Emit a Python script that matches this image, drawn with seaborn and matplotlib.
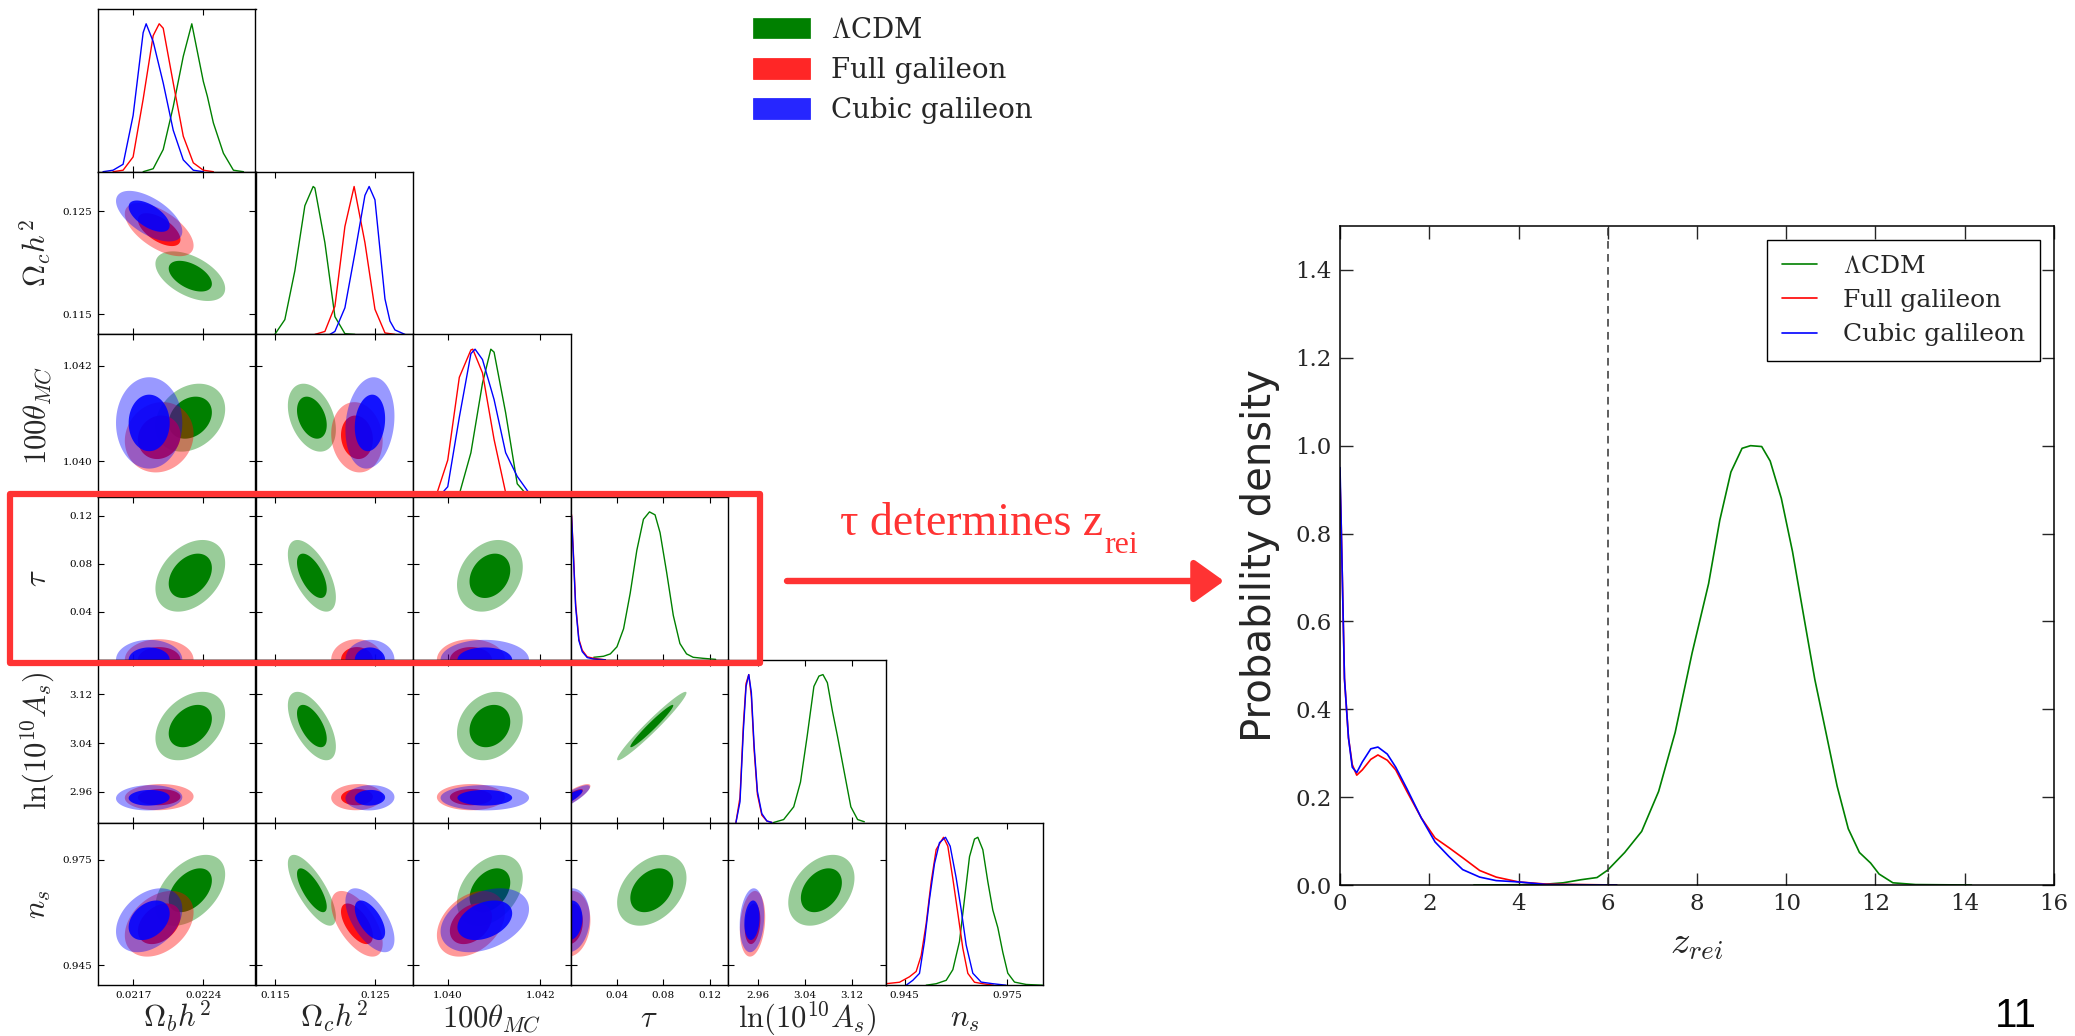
import numpy as np
import pandas as pd
import seaborn as sns
import matplotlib
matplotlib.use("Agg")
import matplotlib.pyplot as plt
from matplotlib.patches import Patch, Rectangle, FancyArrowPatch

# ------------------------------------------------------------------ data
model_names = ["LCDM", "Full galileon", "Cubic galileon"]
legend_labels = [r"$\Lambda$CDM", "Full galileon", "Cubic galileon"]
model_colors = ["#008000", "#ff0000", "#0000ff"]

param_labels = [r"$\Omega_b h^2$", r"$\Omega_c h^2$", r"$100\theta_{MC}$",
                r"$\tau$", r"$\ln(10^{10} A_s)$", r"$n_s$"]
param_lims = [(0.02135, 0.02292), (0.11307, 0.1288), (1.03925, 1.04265),
              (0.0, 0.1356), (2.9093, 3.177), (0.9394, 0.9855)]
param_ticks = [[0.0217, 0.0224], [0.115, 0.125], [1.040, 1.042],
               [0.04, 0.08, 0.12], [2.96, 3.04, 3.12], [0.945, 0.975]]
param_ticklabels = [["0.0217", "0.0224"], ["0.115", "0.125"], ["1.040", "1.042"],
                    ["0.04", "0.08", "0.12"], ["2.96", "3.04", "3.12"], ["0.945", "0.975"]]

# 2D posterior summaries (centre, spread, tilt)
mean_lcdm = [0.02227, 0.1187, 1.04091, 0.0700, 3.068, 0.9663]
sig_lcdm = [1.42e-4, 0.00098, 0.00029, 0.0122, 0.023, 0.0041]
mean_full = [0.02196, 0.1232, 1.04050, 0.0, 2.951, 0.9568]
sig_full = [1.40e-4, 0.00105, 0.00030, 0.0070, 0.0088, 0.0038]
mean_cubic = [0.02186, 0.1245, 1.04080, 0.0, 2.950, 0.9578]
sig_cubic = [1.35e-4, 0.00100, 0.00039, 0.0068, 0.0085, 0.0037]
# pairs in order (0,1),(0,2),(0,3),(0,4),(0,5),(1,2),(1,3),(1,4),(1,5),(2,3),(2,4),(2,5),(3,4),(3,5),(4,5)
corr_lcdm = [-0.50, 0.25, 0.35, 0.35, 0.45, -0.35, -0.60, -0.60, -0.75, 0.25, 0.20, 0.35, 0.97, 0.35, 0.35]
corr_full = [-0.60, 0.10, 0.0, 0.05, 0.35, -0.10, 0.0, 0.05, -0.60, 0.0, 0.0, 0.35, 0.85, 0.10, 0.20]
corr_cubic = [-0.60, 0.0, 0.0, 0.05, 0.35, 0.15, 0.0, 0.05, -0.60, 0.0, 0.0, 0.35, 0.85, 0.10, 0.15]

# 1D marginals, read point by point
omb_x_lcdm = [0.0218, 0.0219, 0.0220, 0.0221, 0.0222, 0.022285, 0.0224, 0.02244, 0.0225, 0.0226, 0.0227, 0.0228]
omb_y_lcdm = [0, 0.02, 0.15, 0.44, 0.78, 1.0, 0.61, 0.51, 0.33, 0.125, 0.01, 0]
omb_x_full = [0.0215, 0.0216, 0.0217, 0.0218, 0.0219, 0.02196, 0.0220, 0.0221, 0.0222, 0.0223, 0.0224, 0.0225]
omb_y_full = [0, 0.01, 0.1, 0.49, 0.92, 1.0, 0.97, 0.6, 0.24, 0.06, 0.01, 0]
omb_x_cubic = [0.0214, 0.0215, 0.0216, 0.0217, 0.0218, 0.02183, 0.0219, 0.0220, 0.0221, 0.0222, 0.0223, 0.0224]
omb_y_cubic = [0, 0.01, 0.05, 0.38, 0.94, 1.0, 0.88, 0.6, 0.28, 0.08, 0.01, 0]

omc_x_lcdm = [0.1150, 0.1160, 0.1170, 0.1180, 0.11883, 0.1190, 0.1200, 0.1210, 0.1220, 0.1230]
omc_y_lcdm = [0, 0.1, 0.43, 0.87, 1.0, 0.99, 0.62, 0.12, 0.005, 0]
omc_x_full = [0.1190, 0.1200, 0.1210, 0.1220, 0.12292, 0.1240, 0.1250, 0.1260, 0.1270]
omc_y_full = [0, 0.02, 0.19, 0.73, 1.0, 0.62, 0.17, 0.01, 0]
omc_x_cubic = [0.1205, 0.1210, 0.1220, 0.1230, 0.1240, 0.12442, 0.1250, 0.1260, 0.1265, 0.1270, 0.1280]
omc_y_cubic = [0, 0.02, 0.18, 0.55, 0.94, 1.0, 0.91, 0.24, 0.09, 0.03, 0]

th_x_lcdm = [1.0400, 1.04025, 1.0405, 1.04075, 1.04093, 1.0410, 1.04125, 1.0415, 1.04175]
th_y_lcdm = [0, 0.02, 0.3, 0.77, 1.0, 0.98, 0.57, 0.09, 0]
th_x_full = [1.0397, 1.03975, 1.0400, 1.04025, 1.0405, 1.04054, 1.04075, 1.0410, 1.04125, 1.0415]
th_y_full = [0, 0.01, 0.25, 0.81, 0.995, 1.0, 0.84, 0.39, 0.03, 0]
th_x_cubic = [1.0398, 1.0400, 1.04025, 1.0405, 1.04059, 1.04075, 1.0410, 1.04125, 1.0415, 1.04175, 1.0420]
th_y_cubic = [0, 0.07, 0.54, 0.97, 1.0, 0.93, 0.66, 0.3, 0.14, 0.03, 0]

tau_x_lcdm = [0.020, 0.0285, 0.0343, 0.040, 0.0457, 0.0514, 0.0571, 0.0628, 0.068, 0.0728,
              0.0771, 0.0828, 0.0885, 0.0942, 0.0999, 0.1056, 0.1142, 0.125]
tau_y_lcdm = [0.017, 0.024, 0.04, 0.088, 0.21, 0.45, 0.74, 0.95, 1.0, 0.98,
              0.86, 0.59, 0.3, 0.11, 0.04, 0.017, 0.01, 0.003]
tau_x_gal = [0.0, 0.0009, 0.0024, 0.0044, 0.0072, 0.0101, 0.0144, 0.020, 0.030]
tau_y_full = [1.0, 0.98, 0.74, 0.38, 0.14, 0.065, 0.02, 0.01, 0.0]
tau_y_cubic = [1.0, 0.97, 0.72, 0.36, 0.13, 0.055, 0.015, 0.005, 0.0]

lnas_x_lcdm = [2.9867, 3.0039, 3.0210, 3.0325, 3.0439, 3.0553, 3.0639, 3.0707, 3.0782,
               3.0868, 3.0953, 3.1067, 3.1181, 3.1296, 3.1410]
lnas_y_lcdm = [0, 0.02, 0.106, 0.273, 0.585, 0.92, 0.99, 1.0, 0.945,
               0.753, 0.585, 0.345, 0.106, 0.02, 0.005]
lnas_x_gal = [2.9228, 2.9297, 2.9354, 2.9400, 2.9446, 2.9490, 2.9537, 2.9593, 2.9668, 2.9754, 2.9840]
lnas_y_full = [0, 0.17, 0.66, 0.94, 1.0, 0.85, 0.49, 0.19, 0.05, 0.01, 0]
lnas_y_cubic = [0, 0.14, 0.62, 0.92, 1.0, 0.88, 0.52, 0.21, 0.06, 0.01, 0]

ns_x_lcdm = [0.95130, 0.95423, 0.95716, 0.95911, 0.96106, 0.96252, 0.96399, 0.96545, 0.96642,
             0.96789, 0.96935, 0.97081, 0.97228, 0.97374, 0.97520, 0.97716, 0.98057, 0.98535]
ns_y_lcdm = [0, 0.01, 0.033, 0.105, 0.296, 0.582, 0.869, 0.988, 1.0,
             0.916, 0.7, 0.508, 0.389, 0.222, 0.081, 0.021, 0.005, 0]
ns_x_full = [0.93948, 0.94350, 0.94642, 0.94838, 0.94984, 0.95130, 0.95277, 0.95423, 0.95638,
             0.95764, 0.95911, 0.96057, 0.96203, 0.96350, 0.96545, 0.96789, 0.9710]
ns_y_full = [0.01, 0.02, 0.057, 0.093, 0.2, 0.415, 0.7, 0.917, 1.0,
             0.94, 0.72, 0.487, 0.25, 0.08, 0.02, 0.01, 0.0]
ns_x_cubic = [0.94545, 0.94740, 0.94935, 0.95081, 0.95228, 0.95374, 0.95520, 0.95696,
              0.95833, 0.96008, 0.96155, 0.96301, 0.96496, 0.96740, 0.97081, 0.97472]
ns_y_cubic = [0, 0.033, 0.08, 0.296, 0.582, 0.821, 0.964, 1.0,
              0.94, 0.726, 0.511, 0.272, 0.081, 0.021, 0.01, 0]

# reionisation redshift posteriors (right panel)
zrei_x_lcdm = [3.0, 4.5, 5.0, 5.4, 5.76, 6.0, 6.38, 6.76, 7.14, 7.51, 7.89, 8.26, 8.51, 8.76, 9.01,
               9.2, 9.45, 9.64, 9.89, 10.14, 10.39, 10.64, 10.89, 11.14, 11.39, 11.64, 11.89,
               12.08, 12.39, 12.9, 14.15]
zrei_y_lcdm = [0.0, 0.001, 0.005, 0.012, 0.017, 0.034, 0.074, 0.122, 0.213, 0.347, 0.528, 0.686,
               0.83, 0.94, 0.994, 1.0, 0.998, 0.965, 0.88, 0.759, 0.613, 0.468, 0.347, 0.225,
               0.128, 0.074, 0.05, 0.025, 0.005, 0.001, 0.0]
zrei_x_gal = [0.0, 0.025, 0.1, 0.19, 0.275, 0.375, 0.5, 0.69, 0.85, 1.06, 1.25, 1.5, 1.82,
              2.13, 2.44, 2.75, 3.13, 3.5, 4.0, 4.63, 6.2]
zrei_y_full = [0.92, 0.83, 0.47, 0.335, 0.274, 0.25, 0.262, 0.286, 0.296, 0.284, 0.262, 0.213,
               0.153, 0.107, 0.085, 0.062, 0.033, 0.018, 0.007, 0.002, 0.0]
zrei_y_cubic = [0.95, 0.83, 0.47, 0.335, 0.268, 0.256, 0.28, 0.31, 0.314, 0.298, 0.268, 0.219,
                0.153, 0.098, 0.065, 0.035, 0.018, 0.01, 0.007, 0.001, 0.0]
zrei_cut = 6.0

# ------------------------------------------------------------------ style
sns.set_theme(style="ticks")
plt.rcParams["font.family"] = ["DejaVu Serif"]
plt.rcParams["mathtext.fontset"] = "cm"
plt.rcParams["axes.unicode_minus"] = False

W, H, DPI = 2075, 1036, 100
fig = plt.figure(figsize=(W / DPI, H / DPI), dpi=DPI)
fig.patch.set_facecolor("white")

means = [mean_lcdm, mean_full, mean_cubic]
sigs = [sig_lcdm, sig_full, sig_cubic]
corrs = [corr_lcdm, corr_full, corr_cubic]
pairs = [(a, b) for a in range(6) for b in range(a + 1, 6)]

diag = [
    [(omb_x_lcdm, omb_y_lcdm), (omb_x_full, omb_y_full), (omb_x_cubic, omb_y_cubic)],
    [(omc_x_lcdm, omc_y_lcdm), (omc_x_full, omc_y_full), (omc_x_cubic, omc_y_cubic)],
    [(th_x_lcdm, th_y_lcdm), (th_x_full, th_y_full), (th_x_cubic, th_y_cubic)],
    [(tau_x_lcdm, tau_y_lcdm), (tau_x_gal, tau_y_full), (tau_x_gal, tau_y_cubic)],
    [(lnas_x_lcdm, lnas_y_lcdm), (lnas_x_gal, lnas_y_full), (lnas_x_gal, lnas_y_cubic)],
    [(ns_x_lcdm, ns_y_lcdm), (ns_x_full, ns_y_full), (ns_x_cubic, ns_y_cubic)],
]

R1, R2 = 1.515, 2.448  # 68% / 95% radii of a 2D Gaussian


def contour(m, i, j, r):
    mu, sg, cr = means[m], sigs[m], corrs[m]
    rho = cr[pairs.index((min(i, j), max(i, j)))]
    t = np.linspace(0, 2 * np.pi, 160)
    u = np.cos(t)
    v = rho * np.cos(t) + np.sqrt(1 - rho ** 2) * np.sin(t)
    return mu[j] + r * sg[j] * u, mu[i] + r * sg[i] * v


# layout (pixels)
L0, T0, CW, RH = 98.0, 9.0, 157.5, 162.7


def rect(left, top, w, h):
    return [left / W, 1 - (top + h) / H, w / W, h / H]


tick_kw = dict(direction="in", length=4.3, width=0.8, labelsize=7.5, pad=4, colors="black")
axes = {}
for i in range(6):
    for j in range(i + 1):
        ax = fig.add_axes(rect(L0 + j * CW, T0 + i * RH, CW, RH))
        axes[(i, j)] = ax
        ax.set_facecolor("white")
        for s in ax.spines.values():
            s.set_linewidth(1.0)
            s.set_color("black")
        ax.set_xlim(param_lims[j])
        ax.set_xticks(param_ticks[j])
        ax.set_xticklabels(param_ticklabels[j])
        if i == j:
            for m in range(3):
                xs, ys = diag[i][m]
                sns.lineplot(x=xs, y=ys, ax=ax, color=model_colors[m], linewidth=1.0,
                             estimator=None, legend=False)
            ax.set_ylim(0, 1.1)
            ax.set_yticks([])
            ax.tick_params(axis="x", top=True, bottom=True, **tick_kw)
        else:
            for m in range(3):
                alpha_in = 1.0 if m == 0 else 0.88
                xo, yo = contour(m, i, j, R2)
                ax.fill(xo, yo, color=model_colors[m], alpha=0.4, lw=0)
                xi, yi = contour(m, i, j, R1)
                ax.fill(xi, yi, color=model_colors[m], alpha=alpha_in, lw=0)
            ax.set_ylim(param_lims[i])
            ax.set_yticks(param_ticks[i])
            ax.set_yticklabels(param_ticklabels[i])
            ax.tick_params(axis="both", top=True, right=True, **tick_kw)
        ax.set_xlabel("")
        ax.set_ylabel("")
        ax.tick_params(labelbottom=(i == 5), labelleft=(j == 0 and i > 0))
        if i == 5:
            ax.set_xlabel(param_labels[j], fontsize=22, va="baseline")
            ax.xaxis.set_label_coords(0.5, -0.258)
        if j == 0 and i > 0:
            ax.set_ylabel(param_labels[i], fontsize=22, va="baseline")
            ax.yaxis.set_label_coords(-0.33, 0.5)

# top legend of the triangle plot
handles = [Patch(facecolor=c, edgecolor=c, alpha=(1.0 if k == 0 else 0.85), lw=0.5)
           for k, c in enumerate(model_colors)]
fig.legend(handles, legend_labels, loc="upper left", bbox_to_anchor=(753 / W, 1 - 17 / H),
           frameon=False, fontsize=20, handlelength=2.05, handleheight=0.75,
           handletextpad=0.75, labelspacing=0.47, borderpad=0, borderaxespad=0)

# ------------------------------------------------------------------ right panel
ax2 = fig.add_axes(rect(1340, 226, 714, 659))
zcurves = [(zrei_x_lcdm, zrei_y_lcdm), (zrei_x_gal, zrei_y_full), (zrei_x_gal, zrei_y_cubic)]
for m in range(3):
    xs, ys = zcurves[m]
    sns.lineplot(x=xs, y=ys, ax=ax2, color=model_colors[m], linewidth=1.2,
                 estimator=None, label=legend_labels[m])
ax2.axvline(zrei_cut, color="#333333", ls=(0, (5, 3.5)), lw=1.1)
ax2.set_xlim(0, 16)
ax2.set_ylim(0, 1.5)
ax2.set_xticks(np.arange(0, 17, 2))
ax2.set_yticks(np.arange(0, 1.41, 0.2))
ax2.set_yticklabels([f"{v:.1f}" for v in np.arange(0, 1.41, 0.2)])
ax2.tick_params(axis="both", direction="in", length=9, width=1.0, labelsize=16.5,
                top=True, right=True, pad=6)
for s in ax2.spines.values():
    s.set_linewidth(1.1)
    s.set_color("black")
ax2.set_xlabel(r"$z_{rei}$", fontsize=28)
ax2.xaxis.set_label_coords(0.5, -0.06)
ax2.set_ylabel("Probability density", fontsize=29, family="DejaVu Sans", va="baseline")
ax2.yaxis.set_label_coords(-0.097, 0.5)
leg = ax2.legend(loc="upper right", fontsize=18, frameon=True, fancybox=False,
                 edgecolor="black", framealpha=1, handlelength=1.4, handletextpad=1.05,
                 borderpad=0.6, labelspacing=0.45, borderaxespad=0.55)
leg.get_frame().set_linewidth(1.0)

# ------------------------------------------------------------------ annotations
red_c = "#ff3333"
tau_top = T0 + 3 * RH
fig.add_artist(Rectangle((10 / W, 1 - (tau_top + RH + 3) / H), 750 / W, (RH + 6) / H,
                         transform=fig.transFigure, fill=False, ec=red_c, lw=4.5,
                         joinstyle="round"))
fig.add_artist(FancyArrowPatch((787 / W, 1 - 581 / H), (1224 / W, 1 - 581 / H),
                               transform=fig.transFigure, arrowstyle="-|>,head_length=0.42,head_width=0.3",
                               mutation_scale=43, lw=4.6, color=red_c, shrinkA=0, shrinkB=0))
renderer = fig.canvas.get_renderer()
t_main = fig.text(840 / W, 1 - 535 / H, "τ determines z", color=red_c, fontsize=33,
                  family=["Liberation Serif", "DejaVu Serif"], ha="left", va="baseline")
bb = t_main.get_window_extent(renderer)
fig.text((bb.x1 + 1) / W, 1 - 553 / H, "rei", color=red_c, fontsize=23,
         family=["Liberation Serif", "DejaVu Serif"], ha="left", va="baseline")
fig.text(2037 / W, 1 - 1027 / H, "11", fontsize=29, family=["Liberation Sans", "DejaVu Sans"],
         ha="right", va="baseline", color="black")

fig.savefig("out.png", dpi=DPI, facecolor="white")
